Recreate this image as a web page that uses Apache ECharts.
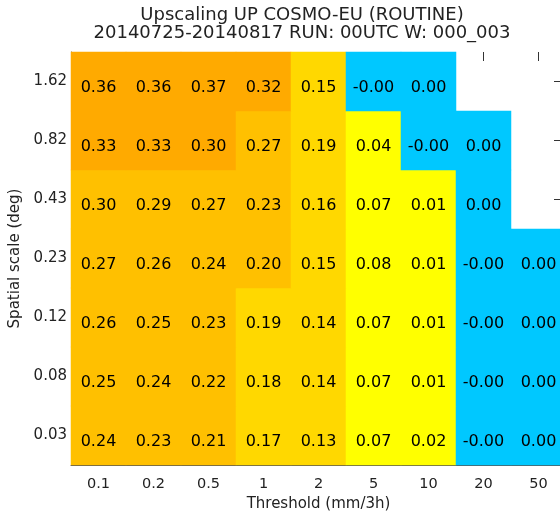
<!DOCTYPE html>
<html>
<head>
<meta charset="utf-8">
<script src="https://cdn.jsdelivr.net/npm/echarts@6/dist/echarts.min.js"></script>
<style>html,body{margin:0;padding:0;background:#fff;}#c{width:560px;height:512px;}</style>
</head>
<body>
<div id="c"></div>
<script>
// Threshold categories (x) and spatial scales (y, bottom to top)
const xCats = ['0.1','0.2','0.5','1','2','5','10','20','50'];
const yCats = ['0.03','0.08','0.12','0.23','0.43','0.82','1.62'];
// Values per spatial scale row (null = no data)
const row003 = [0.24, 0.23, 0.21, 0.17, 0.13, 0.07, 0.02, -0.001, 0.00];
const row008 = [0.25, 0.24, 0.22, 0.18, 0.14, 0.07, 0.01, -0.001, 0.00];
const row012 = [0.26, 0.25, 0.23, 0.19, 0.14, 0.07, 0.01, -0.001, 0.00];
const row023 = [0.27, 0.26, 0.24, 0.20, 0.15, 0.08, 0.01, -0.001, 0.00];
const row043 = [0.298, 0.29, 0.27, 0.23, 0.16, 0.07, 0.01, 0.00, null];
const row082 = [0.33, 0.33, 0.30, 0.27, 0.19, 0.04, -0.001, 0.00, null];
const row162 = [0.36, 0.36, 0.37, 0.32, 0.15, -0.001, 0.00, null, null];
const rows = [row003, row008, row012, row023, row043, row082, row162];

const data = [];
rows.forEach((r, yi) => r.forEach((v, xi) => { if (v !== null) data.push([xi, yi, v]); }));

const FONT = 'DejaVu Sans';
const chart = echarts.init(document.getElementById('c'), null, {renderer: 'canvas'});
chart.setOption({
  backgroundColor: '#fff',
  animation: false,
  title: {
    text: 'Upscaling UP COSMO-EU (ROUTINE)\n20140725-20140817 RUN: 00UTC W: 000_003',
    left: 297, top: 2, textAlign: 'center',
    textStyle: {fontFamily: FONT, fontSize: 18, fontWeight: 'normal', color: '#222', lineHeight: 17.5}
  },
  grid: {left: 71, top: 52, width: 495, height: 413, containLabel: false, outerBoundsMode: 'none'},
  xAxis: [{
    type: 'category', data: xCats, position: 'bottom',
    axisTick: {show: false},
    axisLine: {show: true, lineStyle: {color: '#555', width: 1}},
    axisLabel: {fontFamily: FONT, fontSize: 14.5, color: '#222', margin: 12},
    splitLine: {show: false},
    name: 'Threshold (mm/3h)', nameLocation: 'middle', nameGap: 27,
    nameTextStyle: {fontFamily: FONT, fontSize: 15, color: '#222'}
  }, {
    type: 'category', data: xCats, position: 'top',
    axisLine: {show: false},
    axisTick: {show: true, inside: true, length: 9, alignWithLabel: true, lineStyle: {color: '#333'}},
    axisLabel: {show: false}, splitLine: {show: false}
  }],
  yAxis: [{
    type: 'category', data: yCats, position: 'left',
    axisTick: {show: false},
    axisLine: {show: true, lineStyle: {color: '#555', width: 1}},
    axisLabel: {fontFamily: FONT, fontSize: 15, color: '#222', margin: 4},
    splitLine: {show: false},
    name: 'Spatial scale (deg)', nameLocation: 'middle', nameGap: 41,
    nameTextStyle: {fontFamily: FONT, fontSize: 15, color: '#222'}
  }, {
    type: 'category', data: yCats, position: 'right',
    axisLine: {show: false},
    axisTick: {show: true, inside: true, length: 12, alignWithLabel: true, lineStyle: {color: '#333'}},
    axisLabel: {show: false}, splitLine: {show: false}
  }],
  visualMap: {
    type: 'piecewise', show: false, dimension: 2, seriesIndex: 0,
    pieces: [
      {lt: 0.005, color: '#00c8ff'},
      {gte: 0.005, lt: 0.1, color: '#ffff00'},
      {gte: 0.1, lt: 0.2, color: '#ffd800'},
      {gte: 0.2, lt: 0.3, color: '#ffc000'},
      {gte: 0.3, color: '#ffaa00'}
    ]
  },
  series: [{
    type: 'heatmap', xAxisIndex: 0, yAxisIndex: 0, data: data,
    itemStyle: {borderWidth: 0},
    label: {
      show: true, offset: [0, 6],
      formatter: p => p.value[2].toFixed(2),
      fontFamily: FONT, fontSize: 16, color: '#000'
    },
    emphasis: {disabled: true}
  }]
});
</script>
</body>
</html>
